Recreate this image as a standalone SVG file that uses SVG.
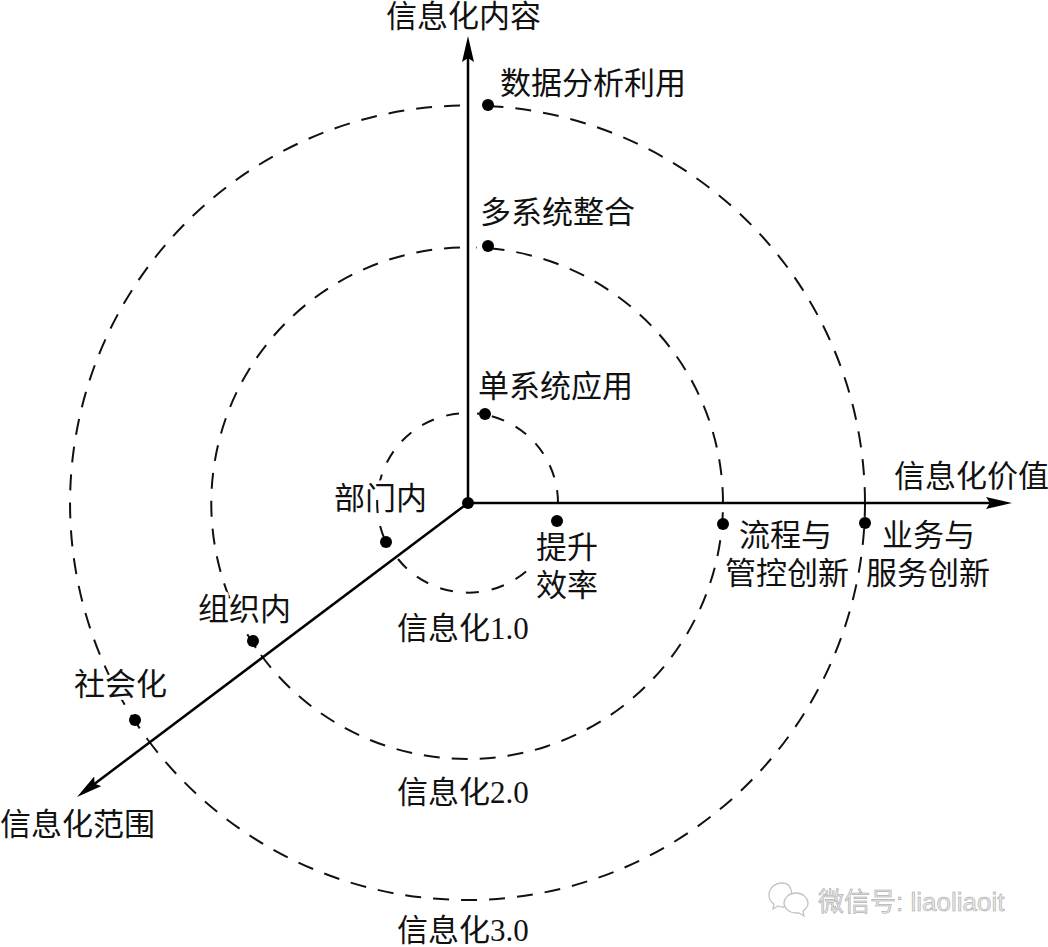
<svg xmlns="http://www.w3.org/2000/svg" width="1048" height="947" viewBox="0 0 1048 947">
<style>
.l{font-family:"Liberation Serif","Noto Sans CJK SC",serif;font-size:31px;fill:#111}
.h{paint-order:stroke;stroke:#fff;stroke-width:7px;stroke-linejoin:round}
.a{fill:none;stroke:#000;stroke-width:2.5}
.c{fill:none;stroke:#111;stroke-width:2;stroke-dasharray:16 12}
.e{stroke-dasharray:13 13}
.d{fill:#000}
.w{font-family:"Liberation Sans","Noto Sans CJK SC",sans-serif;font-size:26px;fill:#e6e6e6;stroke:#a0a0a0;stroke-width:.5}
.i{fill:#fff;stroke:#c4c4c4;stroke-width:1.3}
</style>
<defs>
<marker id="ah" markerUnits="userSpaceOnUse" markerWidth="28" markerHeight="14" refX="18" refY="6" orient="auto"><path d="M0 0L26 6L0 12L4 6Z" fill="#000"/></marker>
</defs>
<rect width="1048" height="947" fill="#fff"/>
<g id="connectors">
<path class="c e" d="M558 503A90 90 0 0 0 477 413.5"/>
<path class="c e" d="M459 413.5A90 90 0 0 0 386 542"/>
<path class="c e" d="M398 559A90 90 0 0 0 534 564"/>
<path class="c" d="M723 503A256 256 0 0 0 476 247.5"/>
<path class="c" d="M460 247.5A256 256 0 0 0 261 655"/>
<path class="c" d="M261 655A256 256 0 0 0 723 503"/>
<path class="c" d="M865 503A398 398 0 0 0 476 105.5"/>
<path class="c" d="M460 105.5A398 398 0 0 0 148 740"/>
<path class="c" d="M148 740A398 398 0 0 0 865 503"/>
<path class="a" d="M468 503V44" marker-end="url(#ah)"/>
<path class="a" d="M468 503H1004" marker-end="url(#ah)"/>
<path class="a" d="M468 503L83.4 792.2" marker-end="url(#ah)"/>
</g>
<g id="origin"><circle class="d" cx="468" cy="503" r="6"/></g>
<g id="n-content"><text class="l" x="386" y="27">信息化内容</text></g>
<g id="n-value"><text class="l" x="894" y="487">信息化价值</text></g>
<g id="n-scope"><text class="l" x="0" y="835">信息化范围</text></g>
<g id="n-data"><circle class="d" cx="488" cy="105" r="6"/><text class="l" x="500" y="94">数据分析利用</text></g>
<g id="n-multi"><circle class="d" cx="488" cy="246" r="6"/><text class="l" x="480" y="223">多系统整合</text></g>
<g id="n-single"><circle class="d" cx="485" cy="414" r="6"/><text class="l" x="478" y="397">单系统应用</text></g>
<g id="n-eff"><circle class="d" cx="557" cy="521" r="6"/><text class="l h" x="536" y="558">提升</text><text class="l h" x="536" y="596">效率</text></g>
<g id="n-proc"><circle class="d" cx="723" cy="524" r="6"/><text class="l" x="739" y="546">流程与</text><text class="l" x="725" y="584">管控创新</text></g>
<g id="n-biz"><circle class="d" cx="865" cy="523" r="6"/><text class="l" x="882" y="546">业务与</text><text class="l" x="866" y="584">服务创新</text></g>
<g id="n-dept"><circle class="d" cx="386" cy="542" r="6"/><text class="l h" x="334" y="509">部门内</text></g>
<g id="n-org"><circle class="d" cx="253" cy="641" r="6"/><text class="l h" x="198" y="620">组织内</text></g>
<g id="n-soc"><circle class="d" cx="135" cy="720" r="6"/><text class="l h" x="74" y="695">社会化</text></g>
<g id="n-l1"><text class="l" x="397" y="639">信息化1.0</text></g>
<g id="n-l2"><text class="l" x="397" y="803">信息化2.0</text></g>
<g id="n-l3"><text class="l" x="397" y="941">信息化3.0</text></g>
<g id="watermark">
<path class="i" d="M782 883c-8 0-13 6-13 12 0 4 2 7 5 9l-1 5 5-3c2 1 3 1 5 1l8-1c1-9 3-23-9-23z"/>
<path class="i" d="M796 893c-7 0-12 5-12 10s5 10 12 10l3 0 5 3-1-5c3-2 5-5 5-8 0-5-5-10-12-10z"/>
<text class="w" x="818" y="911">微信号: liaoliaoit</text>
</g>
</svg>
